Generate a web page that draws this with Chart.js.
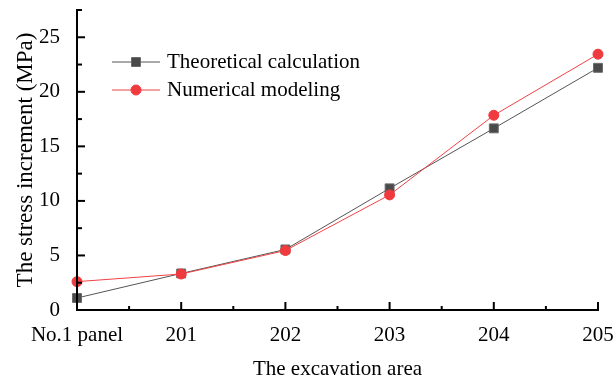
<!DOCTYPE html>
<html>
<head>
<meta charset="utf-8">
<script src="https://cdn.jsdelivr.net/npm/chart.js@4/dist/chart.umd.min.js"></script>
<style>
  html, body { margin: 0; padding: 0; background: #fff; }
  #wrap { width: 616px; height: 376px; position: relative; }
</style>
</head>
<body>
<div id="wrap"><canvas id="c"></canvas></div>
<script>
// Excavation areas along the x axis
const areas = ['No.1 panel', '201', '202', '203', '204', '205'];
// Stress increment (MPa) for each area
const theoretical = [1.1, 3.35, 5.55, 11.15, 16.65, 22.2];
const numerical = [2.6, 3.3, 5.45, 10.55, 17.85, 23.45];
// Labelled values on the y axis
const yTickValues = [0, 5, 10, 15, 20, 25];
const seriesNames = ['Theoretical calculation', 'Numerical modeling'];

const FONT = 'Liberation Serif';

// Axis lines with inward major/minor tick marks, drawn over the series
const axisFrame = {
  id: 'axisFrame',
  afterDatasetsDraw(chart) {
    const { ctx, chartArea, scales } = chart;
    const { left, right, top, bottom } = chartArea;
    const x = scales.x, y = scales.y;
    ctx.save();
    ctx.strokeStyle = '#000';
    ctx.lineWidth = 2;
    ctx.lineCap = 'square';
    ctx.beginPath();
    ctx.moveTo(left, top);
    ctx.lineTo(left, bottom);
    ctx.lineTo(right, bottom);
    ctx.stroke();
    ctx.lineCap = 'butt';
    // y ticks: majors on labelled values, minors halfway between
    const yStep = yTickValues[1] - yTickValues[0];
    for (let v = y.min; v <= y.max + 1e-9; v += yStep / 2) {
      const py = y.getPixelForValue(v);
      const major = yTickValues.includes(Math.round(v * 100) / 100);
      ctx.beginPath();
      ctx.moveTo(left, py);
      ctx.lineTo(left + (major ? 8 : 5), py);
      ctx.stroke();
    }
    // x ticks: majors at categories, minors halfway between
    for (let i = 0; i < areas.length; i++) {
      const px = x.getPixelForValue(i);
      ctx.beginPath();
      ctx.moveTo(px, bottom);
      ctx.lineTo(px, bottom - 8);
      ctx.stroke();
      if (i < areas.length - 1) {
        const mx = (px + x.getPixelForValue(i + 1)) / 2;
        ctx.beginPath();
        ctx.moveTo(mx, bottom);
        ctx.lineTo(mx, bottom - 4);
        ctx.stroke();
      }
    }
    ctx.restore();
  }
};

// Legend: a short line with the marker in its middle, then the series name
const lineLegend = {
  id: 'lineLegend',
  afterDraw(chart) {
    const { ctx } = chart;
    const x0 = 112, x1 = 160, textX = 167;
    const rows = [62, 90];
    ctx.save();
    chart.data.datasets.forEach((ds, i) => {
      const yy = rows[i];
      const cx = (x0 + x1) / 2;
      ctx.strokeStyle = ds.borderColor;
      ctx.lineWidth = ds.borderWidth;
      ctx.beginPath();
      ctx.moveTo(x0, yy);
      ctx.lineTo(x1, yy);
      ctx.stroke();
      ctx.fillStyle = ds.pointBackgroundColor;
      ctx.strokeStyle = ds.pointBorderColor;
      ctx.lineWidth = ds.pointBorderWidth;
      Chart.helpers.drawPoint(ctx, {
        pointStyle: ds.pointStyle,
        radius: ds.pointRadius,
        borderWidth: ds.pointBorderWidth,
        rotation: 0
      }, cx, yy);
      ctx.fillStyle = '#000';
      ctx.font = `21px "${FONT}"`;
      ctx.textBaseline = 'middle';
      ctx.textAlign = 'left';
      ctx.fillText(ds.label, textX, yy);
    });
    ctx.restore();
  }
};

new Chart(document.getElementById('c'), {
  type: 'line',
  data: {
    labels: areas,
    datasets: [
      {
        label: seriesNames[0],
        data: theoretical,
        borderColor: '#555555',
        borderWidth: 1,
        pointStyle: 'rect',
        pointRadius: 6.3,
        pointBorderWidth: 1,
        pointBackgroundColor: '#4a4a4a',
        pointBorderColor: '#6a6a6a',
        tension: 0,
        clip: false,
        order: 2
      },
      {
        label: seriesNames[1],
        data: numerical,
        borderColor: '#f04246',
        borderWidth: 1,
        pointStyle: 'circle',
        pointRadius: 5,
        pointBorderWidth: 1,
        pointBackgroundColor: '#ef3a3e',
        pointBorderColor: '#ef3a3e',
        tension: 0,
        clip: false,
        order: 1
      }
    ]
  },
  options: {
    responsive: true,
    maintainAspectRatio: false,
    animation: false,
    devicePixelRatio: 1,
    layout: { padding: { left: 0, right: 18, top: 10, bottom: 0 } },
    plugins: {
      legend: { display: false },
      tooltip: { enabled: false }
    },
    scales: {
      x: {
        type: 'category',
        offset: false,
        grid: { display: false },
        border: { display: false },
        ticks: {
          color: '#000',
          font: { family: FONT, size: 21 },
          padding: 5,
          maxRotation: 0,
          autoSkip: false
        },
        title: {
          display: true,
          text: 'The excavation area',
          color: '#000',
          font: { family: FONT, size: 21 },
          padding: { top: 0, bottom: -6 }
        },
        afterFit(scale) {
          scale.height = 66;
          scale.paddingLeft = 0;
          scale.paddingRight = 0;
        }
      },
      y: {
        min: 0,
        max: 27.5,
        grid: { display: false },
        border: { display: false },
        afterBuildTicks(scale) {
          scale.ticks = yTickValues.map(v => ({ value: v }));
        },
        ticks: {
          color: '#000',
          font: { family: FONT, size: 21 },
          padding: 9
        },
        title: {
          display: true,
          text: 'The stress increment (MPa)',
          color: '#000',
          font: { family: FONT, size: 23 },
          padding: { top: 12, bottom: 0 }
        },
        afterFit(scale) {
          scale.width = 77;
          scale.paddingTop = 0;
          scale.paddingBottom = 0;
        }
      }
    }
  },
  plugins: [axisFrame, lineLegend]
});
</script>
</body>
</html>
